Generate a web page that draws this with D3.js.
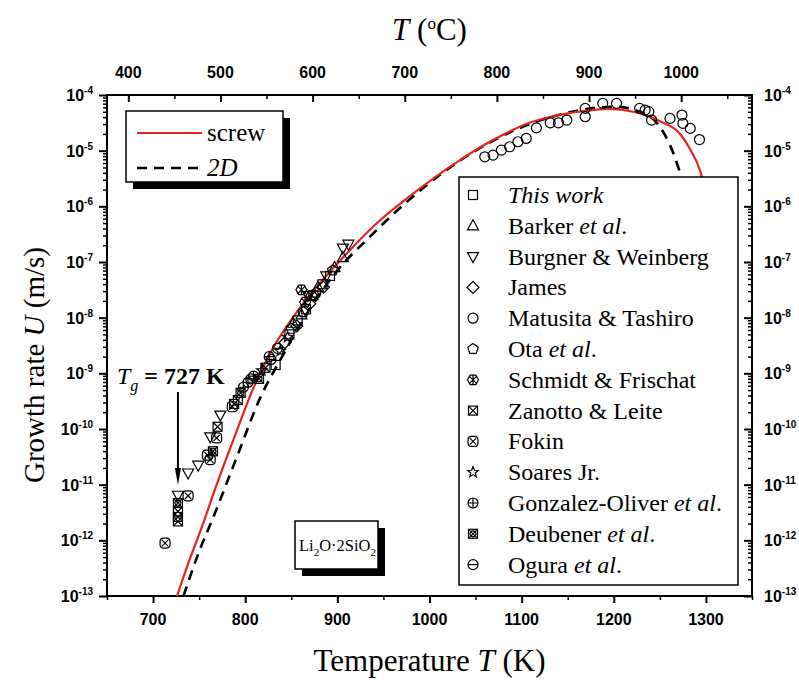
<!DOCTYPE html>
<html><head><meta charset="utf-8">
<script src="https://cdn.jsdelivr.net/npm/d3@7"></script>
<style>body{margin:0;background:#fff}</style>
</head><body>
<svg id="c" width="799" height="680"></svg>
<script>
// ---------- data ----------
const xTicksK = [700, 800, 900, 1000, 1100, 1200, 1300];
const xMinorK = [650, 750, 850, 950, 1050, 1150, 1250, 1350];
const xTicksC = [400, 500, 600, 700, 800, 900, 1000];
const xMinorC = [450, 550, 650, 750, 850, 950, 1050];
const yExponents = [-13, -12, -11, -10, -9, -8, -7, -6, -5, -4];

// curves: [T (K), log10 U (m/s)]
const screwCurve = [[726,-13],[740,-12.33],[751,-11.85],[769,-11.0],[787,-10.2],[810,-9.22],[830,-8.55],[856,-7.9],[880,-7.4],[910,-6.85],[943,-6.3],[980,-5.8],[1033,-5.17],[1070,-4.8],[1105,-4.52],[1140,-4.36],[1177,-4.27],[1195,-4.25],[1221,-4.3],[1250,-4.47],[1272,-4.7],[1283,-4.98],[1294,-5.38],[1300,-5.8],[1305,-6.6]];
const twoDCurve = [[733,-13],[750,-12.2],[765,-11.6],[791,-10.5],[816,-9.45],[840,-8.7],[870,-7.85],[900,-7.15],[932,-6.6],[970,-6.0],[1010,-5.45],[1048,-5.02],[1090,-4.65],[1140,-4.36],[1175,-4.24],[1200,-4.21],[1228,-4.3],[1250,-4.57],[1261,-4.9],[1268,-5.2],[1274,-5.55],[1280,-6.2],[1285,-7]];

// measured points: [T (K), log10 U]
const thisWork = [[833,-8.85],[848,-8.3],[857,-8.05],[866,-7.85],[874,-7.6],[884,-7.4],[892,-7.25]];
const barker = [[852,-8.1],[861,-7.95],[879,-7.45],[897,-7.1],[906,-6.92]];
const burgner = [[727,-11.19],[738,-10.79],[749,-10.65],[762,-10.14],[773,-9.75],[868,-7.6],[888,-7.25],[906,-6.75],[912,-6.68]];
const james = [[843,-8.45],[856,-8.15],[870,-7.75],[885,-7.45]];
const matusita = [[1060,-5.11],[1069,-5.08],[1078,-4.99],[1087,-4.93],[1096,-4.84],[1105,-4.78],[1116,-4.59],[1131,-4.5],[1140,-4.5],[1149,-4.45],[1169,-4.39],[1169,-4.24],[1188,-4.15],[1203,-4.15],[1228,-4.24],[1234,-4.27],[1238,-4.3],[1241,-4.45],[1261,-4.42],[1274,-4.36],[1275,-4.51],[1283,-4.6],[1293,-4.8]];
const ota = [[850,-8.2],[863,-7.9],[877,-7.55],[895,-7.15]];
const schmidt = [[861,-7.5],[865,-7.72],[872,-7.6]];
const zanotto = [[727,-11.48],[727,-11.58],[727,-11.66],[770,-9.96],[788,-9.55],[792,-9.48],[822,-8.9]];
const fokin = [[713,-12.05],[738,-11.2],[759,-10.47],[762,-10.55],[769,-10.16],[786,-9.6]];
const soares = [[818,-8.95],[838,-8.6],[846,-8.35]];
const gonzalez = [[798,-9.25],[803,-9.16],[809,-9.05],[826,-8.7]];
const deubener = [[727,-11.33],[765,-10.4],[795,-9.35],[815,-9.1]];
const ogura = [[806,-9.1],[828,-8.75],[835,-8.55]];

const seriesList = [
  {sym:'square',   data:thisWork, label:[['This work','i']]},
  {sym:'triUp',    data:barker,   label:[['Barker ',''],['et al','i'],['.','']]},
  {sym:'triDown',  data:burgner,  label:[['Burgner & Weinberg','']]},
  {sym:'diamond',  data:james,    label:[['James','']]},
  {sym:'circle',   data:matusita, label:[['Matusita & Tashiro','']]},
  {sym:'pentagon', data:ota,      label:[['Ota ',''],['et al','i'],['.','']]},
  {sym:'asterisk', data:schmidt,  label:[['Schmidt & Frischat','']]},
  {sym:'boxX',     data:zanotto,  label:[['Zanotto & Leite','']]},
  {sym:'roundX',   data:fokin,    label:[['Fokin','']]},
  {sym:'star',     data:soares,   label:[['Soares Jr.','']]},
  {sym:'circPlus', data:gonzalez, label:[['Gonzalez-Oliver ',''],['et al','i'],['.','']]},
  {sym:'boxCircX', data:deubener, label:[['Deubener ',''],['et al','i'],['.','']]},
  {sym:'circMinus',data:ogura,    label:[['Ogura ',''],['et al','i'],['.','']]}
];

// ---------- layout ----------
const L = 107, R = 752, T = 95, B = 596;
const svg = d3.select('#c');
const x = d3.scaleLinear().domain([650, 1350]).range([L, R]);
const xc = d3.scaleLinear().domain([650 - 273.15, 1350 - 273.15]).range([L, R]);
const y = d3.scaleLog().domain([1e-13, 1e-4]).range([B, T]);
const yMinor = [];
yExponents.slice(0, -1).forEach(e => { for (let m = 2; m <= 9; m++) yMinor.push(m * Math.pow(10, e)); });
const yMajor = yExponents.map(e => Math.pow(10, e));

const tickFont = '"Liberation Sans", Arial, sans-serif';
const serif = '"Liberation Serif", "Times New Roman", serif';

function styleAxis(g, w) {
  g.select('.domain').remove();
  g.selectAll('line').attr('stroke', '#000').attr('stroke-width', w);
  g.selectAll('text').remove();
}
svg.append('g').attr('transform', `translate(0,${B})`).call(d3.axisBottom(x).tickValues(xTicksK).tickSize(7).tickFormat('')).call(g => styleAxis(g, 2));
svg.append('g').attr('transform', `translate(0,${B})`).call(d3.axisBottom(x).tickValues(xMinorK).tickSize(4).tickFormat('')).call(g => styleAxis(g, 1.5));
svg.append('g').attr('transform', `translate(0,${T})`).call(d3.axisTop(xc).tickValues(xTicksC).tickSize(-7).tickFormat('')).call(g => styleAxis(g, 2));
svg.append('g').attr('transform', `translate(0,${T})`).call(d3.axisTop(xc).tickValues(xMinorC).tickSize(-4).tickFormat('')).call(g => styleAxis(g, 1.5));
svg.append('g').attr('transform', `translate(${L},0)`).call(d3.axisLeft(y).tickValues(yMajor).tickSize(8).tickFormat('')).call(g => styleAxis(g, 2));
svg.append('g').attr('transform', `translate(${L},0)`).call(d3.axisLeft(y).tickValues(yMinor).tickSize(4).tickFormat('')).call(g => styleAxis(g, 1.5));
svg.append('g').attr('transform', `translate(${R},0)`).call(d3.axisRight(y).tickValues(yMajor).tickSize(-8).tickFormat('')).call(g => styleAxis(g, 2));
svg.append('g').attr('transform', `translate(${R},0)`).call(d3.axisRight(y).tickValues(yMinor).tickSize(-4).tickFormat('')).call(g => styleAxis(g, 1.5));

// tick labels
xTicksK.forEach(v => svg.append('text').attr('x', x(v)).attr('y', 625).attr('text-anchor', 'middle')
  .attr('font-family', tickFont).attr('font-weight', 'bold').attr('font-size', 16).text(v));
xTicksC.forEach(v => svg.append('text').attr('x', xc(v)).attr('y', 78).attr('text-anchor', 'middle')
  .attr('font-family', tickFont).attr('font-weight', 'bold').attr('font-size', 16).text(v));
function powLabel(xp, e, anchor) {
  const t = svg.append('text').attr('x', xp).attr('y', y(Math.pow(10, e)) + 6).attr('text-anchor', anchor)
    .attr('font-family', tickFont).attr('font-weight', 'bold').attr('font-size', 16);
  t.append('tspan').text('10');
  t.append('tspan').attr('dy', -7).attr('font-size', 10).text('-' + Math.abs(e));
}
yExponents.forEach(e => { powLabel(93, e, 'end'); powLabel(764, e, 'start'); });

// frame
svg.append('rect').attr('x', L).attr('y', T).attr('width', R - L).attr('height', B - T)
  .attr('fill', 'none').attr('stroke', '#000').attr('stroke-width', 2);

// curves
svg.append('clipPath').attr('id', 'clip').append('rect').attr('x', L).attr('y', T).attr('width', R - L).attr('height', B - T);
const plot = svg.append('g').attr('clip-path', 'url(#clip)');
const line = d3.line().x(d => x(d[0])).y(d => y(Math.pow(10, d[1]))).curve(d3.curveMonotoneX);
plot.append('path').attr('d', line(twoDCurve)).attr('fill', 'none').attr('stroke', '#000').attr('stroke-width', 2.6).attr('stroke-dasharray', '10,7');
plot.append('path').attr('d', line(screwCurve)).attr('fill', 'none').attr('stroke', '#e8231e').attr('stroke-width', 2.2);

// symbols
function drawSym(g, type, cx, cy) {
  const s = g.append('g').attr('transform', `translate(${cx},${cy})`).attr('fill', 'none').attr('stroke', '#000').attr('stroke-width', 1.2);
  const r = 5;
  const poly = (n, rad, rot) => d3.range(n).map(i => { const a = rot + i * 2 * Math.PI / n; return [rad * Math.cos(a), rad * Math.sin(a)]; });
  switch (type) {
    case 'square': s.append('rect').attr('x', -4.5).attr('y', -4.5).attr('width', 9).attr('height', 9); break;
    case 'triUp': s.append('path').attr('d', 'M0,-6L5.5,4L-5.5,4Z'); break;
    case 'triDown': s.append('path').attr('d', 'M0,6L5.5,-4L-5.5,-4Z'); break;
    case 'diamond': s.append('path').attr('d', 'M0,-6L6,0L0,6L-6,0Z'); break;
    case 'circle': s.append('circle').attr('r', r); break;
    case 'pentagon': s.append('path').attr('d', 'M' + poly(5, 5.5, -Math.PI / 2).join('L') + 'Z'); break;
    case 'asterisk':
      s.append('path').attr('d', 'M' + poly(6, 5.5, 0).join('L') + 'Z');
      s.append('path').attr('d', 'M-4,-4L4,4M-4,4L4,-4M0,-5L0,5'); break;
    case 'boxX':
      s.append('rect').attr('x', -4.5).attr('y', -4.5).attr('width', 9).attr('height', 9);
      s.append('path').attr('d', 'M-4.5,-4.5L4.5,4.5M-4.5,4.5L4.5,-4.5'); break;
    case 'roundX':
      s.append('rect').attr('x', -5).attr('y', -5).attr('width', 10).attr('height', 10).attr('rx', 3.5);
      s.append('path').attr('d', 'M-3.2,-3.2L3.2,3.2M-3.2,3.2L3.2,-3.2'); break;
    case 'star':
      s.append('path').attr('d', 'M' + d3.range(10).map(i => { const a = -Math.PI / 2 + i * Math.PI / 5; const rr = i % 2 ? 2.4 : 5.5; return [rr * Math.cos(a), rr * Math.sin(a)]; }).join('L') + 'Z'); break;
    case 'circPlus':
      s.append('circle').attr('r', r);
      s.append('path').attr('d', 'M-5,0L5,0M0,-5L0,5'); break;
    case 'boxCircX':
      s.append('rect').attr('x', -4.5).attr('y', -4.5).attr('width', 9).attr('height', 9);
      s.append('circle').attr('r', 3);
      s.append('path').attr('d', 'M-4.5,-4.5L4.5,4.5M-4.5,4.5L4.5,-4.5'); break;
    case 'circMinus':
      s.append('circle').attr('r', r);
      s.append('path').attr('d', 'M-5,0L5,0'); break;
  }
}
const pts = svg.append('g');
seriesList.forEach(sr => sr.data.forEach(d => drawSym(pts, sr.sym, x(d[0]), y(Math.pow(10, d[1])))));

// legend 1 (lines)
svg.append('rect').attr('x', 133).attr('y', 118).attr('width', 157).attr('height', 71).attr('fill', '#000');
svg.append('rect').attr('x', 126).attr('y', 111).attr('width', 157).attr('height', 71).attr('fill', '#fff').attr('stroke', '#000').attr('stroke-width', 1.5);
svg.append('line').attr('x1', 137).attr('x2', 202).attr('y1', 133).attr('y2', 133).attr('stroke', '#e8231e').attr('stroke-width', 2.2);
svg.append('line').attr('x1', 137).attr('x2', 202).attr('y1', 168).attr('y2', 168).attr('stroke', '#000').attr('stroke-width', 2.6).attr('stroke-dasharray', '10,7');
svg.append('text').attr('x', 207).attr('y', 141).attr('font-family', serif).attr('font-size', 25).text('screw');
svg.append('text').attr('x', 207).attr('y', 176).attr('font-family', serif).attr('font-size', 25).attr('font-style', 'italic').text('2D');

// legend 2 (symbols)
svg.append('rect').attr('x', 459).attr('y', 177).attr('width', 279).attr('height', 408).attr('fill', '#fff').attr('stroke', '#000').attr('stroke-width', 1.5);
const lg = svg.append('g');
seriesList.forEach((sr, i) => {
  const cy = 195 + i * 30.8;
  drawSym(lg, sr.sym, 473, cy);
  const t = lg.append('text').attr('x', 508).attr('y', cy + 8).attr('font-family', serif).attr('font-size', 24);
  sr.label.forEach(p => { const ts = t.append('tspan').text(p[0]); if (p[1] === 'i') ts.attr('font-style', 'italic'); });
});

// Li2O.2SiO2 label box
svg.append('rect').attr('x', 302).attr('y', 528).attr('width', 83).attr('height', 48).attr('fill', '#000');
svg.append('rect').attr('x', 295).attr('y', 521).attr('width', 83).attr('height', 48).attr('fill', '#fff').attr('stroke', '#000').attr('stroke-width', 1.5);
(function () {
  const parts = [['Li', 16.5, 0], ['2', 11, 5], ['O\u00B72SiO', 16.5, 0], ['2', 11, 5]];
  let cx = 299;
  parts.forEach(p => {
    const t = svg.append('text').attr('x', cx).attr('y', 551 + p[2]).attr('font-family', serif).attr('font-size', p[1]).text(p[0]);
    cx += t.node().getComputedTextLength();
  });
})();

// Tg annotation
(function () {
  const t = svg.append('text').attr('x', 117).attr('y', 384).attr('font-family', serif).attr('font-size', 24);
  t.append('tspan').attr('font-style', 'italic').text('T');
  t.append('tspan').attr('baseline-shift', '-7').attr('font-size', 16).attr('font-style', 'italic').text('g');
  t.append('tspan').attr('font-weight', 'bold').text(' = 727 K');
  svg.append('line').attr('x1', x(727)).attr('x2', x(727)).attr('y1', 392).attr('y2', 472).attr('stroke', '#000').attr('stroke-width', 2);
  svg.append('path').attr('d', `M${x(727)},485L${x(727) - 3},468L${x(727) + 3},468Z`).attr('fill', '#000');
})();

// axis titles
(function () {
  const t = svg.append('text').attr('x', (L + R) / 2).attr('y', 40).attr('text-anchor', 'middle').attr('font-family', serif).attr('font-size', 31);
  t.append('tspan').attr('font-style', 'italic').text('T');
  t.append('tspan').text(' (');
  t.append('tspan').attr('baseline-shift', '11').attr('font-size', 17).text('o');
  t.append('tspan').text('C)');
  const b = svg.append('text').attr('x', (L + R) / 2).attr('y', 671).attr('text-anchor', 'middle').attr('font-family', serif).attr('font-size', 31);
  b.append('tspan').text('Temperature ');
  b.append('tspan').attr('font-style', 'italic').text('T');
  b.append('tspan').text(' (K)');
  const l = svg.append('text').attr('transform', 'translate(44,365) rotate(-90)').attr('text-anchor', 'middle').attr('font-family', serif).attr('font-size', 29);
  l.append('tspan').text('Growth rate ');
  l.append('tspan').attr('font-style', 'italic').text('U');
  l.append('tspan').text(' (m/s)');
})();
</script>
</body></html>
